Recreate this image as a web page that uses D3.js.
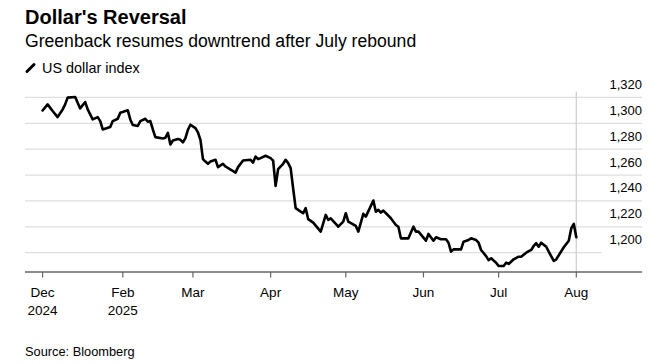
<!DOCTYPE html>
<html>
<head>
<meta charset="utf-8">
<script src="https://cdn.jsdelivr.net/npm/d3@7"></script>
<style>
  html, body { margin: 0; padding: 0; background: #fff; }
  svg { display: block; font-family: "Liberation Sans", Arial, Helvetica, sans-serif; }
</style>
</head>
<body>
<svg id="chart" width="672" height="364"></svg>
<script>
const title = "Dollar's Reversal";
const subtitle = "Greenback resumes downtrend after July rebound";
const seriesName = "US dollar index";
const source = "Source: Bloomberg";

const dates = [
"2024-12-31","2025-01-02","2025-01-04","2025-01-06","2025-01-08","2025-01-09","2025-01-10","2025-01-13","2025-01-14","2025-01-15",
"2025-01-17","2025-01-18","2025-01-20","2025-01-22","2025-01-23","2025-01-24","2025-01-27","2025-01-28","2025-01-30","2025-01-31",
"2025-02-03","2025-02-04","2025-02-05","2025-02-07","2025-02-08","2025-02-10","2025-02-11","2025-02-12","2025-02-13","2025-02-14",
"2025-02-17","2025-02-18","2025-02-19","2025-02-20","2025-02-21","2025-02-23","2025-02-24","2025-02-25","2025-02-26","2025-02-27",
"2025-02-28","2025-03-02","2025-03-03","2025-03-04","2025-03-05","2025-03-06","2025-03-07","2025-03-08","2025-03-10","2025-03-11",
"2025-03-13","2025-03-14","2025-03-18","2025-03-19","2025-03-21","2025-03-24","2025-03-25","2025-03-26","2025-03-27","2025-03-28",
"2025-03-30","2025-04-01","2025-04-02","2025-04-03","2025-04-04","2025-04-06","2025-04-07","2025-04-08","2025-04-09","2025-04-10",
"2025-04-11","2025-04-13","2025-04-14","2025-04-15","2025-04-16","2025-04-18","2025-04-21","2025-04-23","2025-04-24","2025-04-25",
"2025-04-28","2025-04-30","2025-05-01","2025-05-02","2025-05-05","2025-05-06","2025-05-08","2025-05-09","2025-05-12","2025-05-13",
"2025-05-14","2025-05-15","2025-05-16","2025-05-19","2025-05-21","2025-05-22","2025-05-23","2025-05-26","2025-05-28","2025-05-29",
"2025-05-30","2025-06-02","2025-06-03","2025-06-05","2025-06-06","2025-06-08","2025-06-10","2025-06-11","2025-06-12","2025-06-13",
"2025-06-16","2025-06-17","2025-06-19","2025-06-20","2025-06-22","2025-06-23","2025-06-24","2025-06-26","2025-06-27","2025-06-28",
"2025-06-30","2025-07-01","2025-07-03","2025-07-04","2025-07-05","2025-07-07","2025-07-09","2025-07-10","2025-07-12","2025-07-14",
"2025-07-15","2025-07-16","2025-07-17","2025-07-18","2025-07-20","2025-07-21","2025-07-23","2025-07-24","2025-07-27","2025-07-29",
"2025-07-30","2025-07-31","2025-08-01"
];
const values = [
1309.9,1314.6,1309.5,1304.8,1310.7,1314.6,1319.8,1320.3,1315.9,1311.5,
1316.4,1310.7,1303.0,1304.8,1301.7,1295.2,1297.1,1301.7,1303.5,1308.2,
1310.0,1303.0,1298.6,1297.9,1301.7,1303.5,1301.2,1301.7,1295.2,1289.3,
1288.3,1288.8,1292.6,1283.6,1286.7,1287.8,1287.2,1285.2,1288.6,1295.0,
1298.9,1296.3,1292.9,1287.2,1272.3,1270.4,1268.7,1270.4,1271.8,1266.1,
1268.7,1266.6,1261.9,1266.1,1271.2,1271.8,1269.7,1274.3,1272.3,1273.1,
1274.9,1273.1,1271.2,1251.6,1264.6,1268.7,1271.8,1269.2,1265.3,1249.5,
1234.4,1231.7,1230.5,1234.4,1225.9,1223.2,1216.3,1229.2,1225.3,1226.6,
1220.1,1224.0,1230.5,1224.0,1220.7,1216.3,1230.0,1227.9,1240.3,1231.7,
1233.1,1231.0,1232.5,1226.6,1221.4,1220.0,1211.1,1211.1,1220.1,1216.3,
1216.3,1209.3,1214.5,1209.3,1211.9,1210.4,1210.4,1207.7,1200.8,1202.6,
1202.6,1208.5,1209.8,1211.1,1209.8,1207.7,1202.1,1197.4,1194.3,1195.7,
1192.3,1189.7,1189.7,1192.3,1191.3,1194.9,1196.9,1196.9,1200.0,1202.1,
1205.2,1207.3,1204.6,1207.7,1204.6,1200.8,1193.6,1194.9,1204.2,1209.3,
1218.9,1222.2,1211.9
];

const yTicks = [1200, 1220, 1240, 1260, 1280, 1300, 1320];
const xTickDates = ["2024-12-31","2025-02-01","2025-03-01","2025-04-01","2025-05-01","2025-06-01","2025-07-01","2025-08-01"];
const xTickMonths = ["Dec","Feb","Mar","Apr","May","Jun","Jul","Aug"];
const xTickYears = ["2024","2025","","","","","",""];
const markerDate = "2025-08-01";

const parse = d3.utcParse("%Y-%m-%d");
const data = dates.map((d, i) => ({ date: parse(d), value: values[i] }));

const svg = d3.select("#chart");
const x = d3.scaleUtc()
  .domain([parse("2024-12-31"), parse("2025-08-01")])
  .range([42.6, 576.3]);
const y = d3.scaleLinear()
  .domain([1200, 1320])
  .range([252.7, 97.4]);

const left = 25, right = 642, axisY = 272;

// title block
svg.append("text").attr("x", 25).attr("y", 24)
  .attr("font-size", 20).attr("font-weight", "bold").attr("fill", "#000").text(title);
svg.append("text").attr("x", 25).attr("y", 46.5)
  .attr("font-size", 17.6).attr("fill", "#000").text(subtitle);
svg.append("line").attr("x1", 27).attr("y1", 71.5).attr("x2", 34).attr("y2", 64.5)
  .attr("stroke", "#000").attr("stroke-width", 3).attr("stroke-linecap", "round");
svg.append("text").attr("x", 42).attr("y", 72.5)
  .attr("font-size", 14.4).attr("fill", "#000").text(seriesName);

// gridlines
svg.append("g").selectAll("line").data(yTicks).join("line")
  .attr("x1", left)
  .attr("x2", d => d === 1200 ? 601.5 : right)
  .attr("y1", d => y(d)).attr("y2", d => y(d))
  .attr("stroke", "#dedede").attr("stroke-width", 1.2);

// y labels
svg.append("g").selectAll("text").data(yTicks).join("text")
  .attr("x", right).attr("y", d => y(d) - 8.5)
  .attr("text-anchor", "end").attr("font-size", 13).attr("fill", "#000")
  .text(d => d3.format(",")(d));

// marker vertical line
svg.append("line")
  .attr("x1", x(parse(markerDate))).attr("x2", x(parse(markerDate)))
  .attr("y1", 91.5).attr("y2", axisY)
  .attr("stroke", "#d0d0d0").attr("stroke-width", 1.3);

// x axis
svg.append("line").attr("x1", left).attr("x2", right).attr("y1", axisY).attr("y2", axisY)
  .attr("stroke", "#666").attr("stroke-width", 1.3);
const xt = svg.append("g").selectAll("g").data(xTickDates).join("g")
  .attr("transform", d => `translate(${x(parse(d))},${axisY})`);
xt.append("line").attr("y1", 0).attr("y2", 5.5).attr("stroke", "#666").attr("stroke-width", 1.2);
xt.append("text").attr("y", 25).attr("text-anchor", "middle").attr("font-size", 13.5).attr("fill", "#000")
  .text((d, i) => xTickMonths[i]);
xt.append("text").attr("y", 42.5).attr("text-anchor", "middle").attr("font-size", 13.5).attr("fill", "#000")
  .text((d, i) => xTickYears[i]);

// line
const line = d3.line().x(d => x(d.date)).y(d => y(d.value));
svg.append("path").datum(data)
  .attr("d", line).attr("fill", "none").attr("stroke", "#000")
  .attr("stroke-width", 2.6).attr("stroke-linejoin", "round").attr("stroke-linecap", "round");

// source
svg.append("text").attr("x", 25).attr("y", 356)
  .attr("font-size", 12.8).attr("fill", "#000").text(source);
</script>
</body>
</html>
